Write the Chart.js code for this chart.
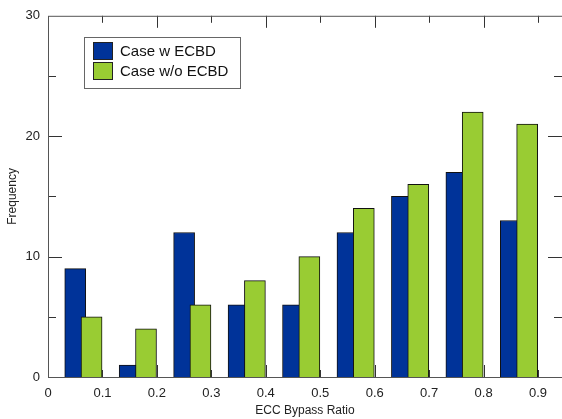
<!DOCTYPE html>
<html>
<head>
<meta charset="utf-8">
<script src="https://cdn.jsdelivr.net/npm/chart.js@4.4.0/dist/chart.umd.min.js"></script>
<style>
  html, body { margin: 0; padding: 0; background: #fff; }
  #wrap { width: 562px; height: 419px; }
</style>
</head>
<body>
<div id="wrap"><canvas id="histChart"></canvas></div>
<script>
// بيانات المخطط
const binCenters = [0.05, 0.15, 0.25, 0.35, 0.45, 0.55, 0.65, 0.75, 0.85];
const withEcbd = [9, 1, 12, 6, 6, 12, 15, 17, 13];
const withoutEcbd = [5, 4, 6, 8, 10, 14, 16, 22, 21];
const seriesLabels = ['Case w ECBD', 'Case w/o ECBD'];
const xTickValues = [0, 0.1, 0.2, 0.3, 0.4, 0.5, 0.6, 0.7, 0.8, 0.9];
const yTickValues = [0, 10, 20, 30];

const blue = '#003399';
const green = '#99cc33';
const greenShift = 0.03;

// الإطار والعلامات الداخلية ومفتاح الرسم
const framePlugin = {
    id: 'frame',
    afterDatasetsDraw(chart) {
        const ctx = chart.ctx;
        const a = chart.chartArea;
        const xs = chart.scales.x;
        const ys = chart.scales.y;
        ctx.save();
        ctx.strokeStyle = '#333';
        ctx.lineWidth = 1;
        ctx.beginPath();
        // x ticks every 0.1, long on even
        for (let i = 1; i <= 9; i++) {
            const px = Math.round(xs.getPixelForValue(i / 10)) + 0.5;
            const len = i % 2 === 0 ? 12 : 7;
            ctx.moveTo(px, a.top); ctx.lineTo(px, a.top + len);
            ctx.moveTo(px, a.bottom); ctx.lineTo(px, a.bottom - len);
        }
        // y ticks every 5, long on 10s
        for (let v = 5; v < 30; v += 5) {
            const py = Math.round(ys.getPixelForValue(v)) + 0.5;
            const len = v % 10 === 0 ? 14 : 8;
            ctx.moveTo(a.left, py); ctx.lineTo(a.left + len, py);
            ctx.moveTo(a.right, py); ctx.lineTo(a.right - len, py);
        }
        ctx.stroke();
        ctx.strokeStyle = '#555';
        ctx.strokeRect(a.left + 0.5, a.top + 0.5, a.right - a.left, a.bottom - a.top);

        // legend
        ctx.fillStyle = '#fff';
        ctx.fillRect(84.5, 37.5, 156, 51);
        ctx.strokeStyle = '#666';
        ctx.strokeRect(84.5, 37.5, 156, 51);
        const colors = [blue, green];
        ctx.font = '15px "Liberation Sans", Arial, sans-serif';
        ctx.textBaseline = 'middle';
        for (let i = 0; i < 2; i++) {
            const y0 = 42 + i * 20;
            ctx.fillStyle = colors[i];
            ctx.fillRect(93.5, y0 + 0.5, 19, 17);
            ctx.strokeStyle = '#222';
            ctx.strokeRect(93.5, y0 + 0.5, 19, 17);
            ctx.fillStyle = '#111';
            ctx.fillText(seriesLabels[i], 120, y0 + 9.5);
        }
        ctx.restore();
    }
};

const chart = new Chart(document.getElementById('histChart'), {
    type: 'bar',
    data: {
        datasets: [{
            label: seriesLabels[0],
            data: binCenters.map((c, i) => ({ x: c, y: withEcbd[i] })),
            backgroundColor: blue,
            borderColor: '#111',
            borderWidth: 1,
            order: 1
        }, {
            label: seriesLabels[1],
            data: binCenters.map((c, i) => ({ x: c + greenShift, y: withoutEcbd[i] })),
            backgroundColor: green,
            borderColor: '#111',
            borderWidth: 1,
            order: 0
        }]
    },
    options: {
        responsive: true,
        maintainAspectRatio: false,
        animation: false,
        grouped: false,
        barThickness: 21,
        layout: { padding: { top: 12, right: 0, left: 0, bottom: 0 } },
        plugins: {
            legend: { display: false },
            tooltip: { enabled: false }
        },
        scales: {
            x: {
                type: 'linear',
                offset: false,
                min: 0,
                max: 0.944,
                afterFit: function(scale) { scale.height = 42; },
                grid: { display: false, drawTicks: false, offset: false },
                border: { display: false },
                afterBuildTicks: function(scale) {
                    scale.ticks = xTickValues.map(v => ({ value: v }));
                },
                ticks: {
                    padding: 9,
                    color: '#222',
                    maxRotation: 0,
                    font: { family: '"Liberation Sans", Arial, sans-serif', size: 13 },
                    callback: function(value) {
                        return value === 0 ? '0' : value.toFixed(1);
                    }
                },
                title: {
                    display: true,
                    text: 'ECC Bypass Ratio',
                    color: '#222',
                    padding: { top: 0, bottom: 1 },
                    font: { family: '"Liberation Sans", Arial, sans-serif', size: 12 }
                }
            },
            y: {
                min: 0,
                max: 30,
                afterFit: function(scale) { scale.width = 48; },
                grid: { display: false, drawTicks: false },
                border: { display: false },
                afterBuildTicks: function(scale) {
                    scale.ticks = yTickValues.map(v => ({ value: v }));
                },
                ticks: {
                    padding: 8,
                    color: '#222',
                    font: { family: '"Liberation Sans", Arial, sans-serif', size: 13 }
                },
                title: {
                    display: true,
                    text: 'Frequency',
                    color: '#222',
                    padding: { top: 5, bottom: 0 },
                    font: { family: '"Liberation Sans", Arial, sans-serif', size: 12 }
                }
            }
        }
    },
    plugins: [framePlugin]
});
</script>
</body>
</html>
